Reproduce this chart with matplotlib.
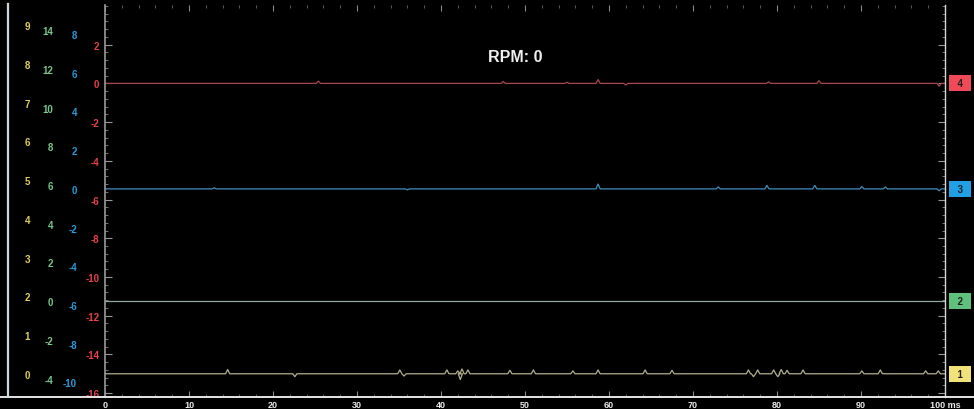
import numpy as np
import matplotlib
matplotlib.use("Agg")
import matplotlib.pyplot as plt
from matplotlib.lines import Line2D

plt.rcParams["axes.unicode_minus"] = False

# channel offsets on the red (ch4) scale, and red units per channel unit
ch_names = ["1", "2", "3", "4"]
ch_offset = [-15.0, -11.25, -5.45, 0.0]
ch_scale = [2.0, 1.0, 1.0, 1.0]
ch_level = [0.0, 0.0, 0.0, 0.0]

# glitches: time (ms), height (in red units)
spikes_1 = [(14.6, 0.22), (22.6, -0.15), (35.1, 0.2), (35.6, -0.12), (40.7, 0.2),
            (42.0, 0.15), (42.3, -0.3), (42.5, 0.25), (43.2, 0.2), (48.2, 0.18),
            (51.0, 0.2), (55.7, 0.15), (58.7, 0.2), (64.3, 0.2), (67.5, 0.18),
            (76.6, 0.2), (77.2, -0.15), (77.7, 0.2), (79.6, 0.2), (80.1, -0.15),
            (80.5, 0.22), (81.2, 0.18), (83.1, 0.2), (90.1, 0.15), (92.3, 0.2),
            (97.7, 0.15), (99.2, 0.15)]
spikes_2 = []
spikes_3 = [(13.0, 0.06), (36.0, -0.05), (58.7, 0.25), (73.0, 0.1), (78.8, 0.18),
            (84.5, 0.18), (90.1, 0.12), (92.9, 0.1), (99.3, -0.1)]
spikes_4 = [(25.4, 0.12), (47.4, 0.1), (55.0, 0.06), (58.7, 0.2), (62.0, -0.08),
            (79.0, 0.08), (85.0, 0.14), (99.3, -0.15)]
all_spikes = [spikes_1, spikes_2, spikes_3, spikes_4]

trace_colors = ["#b3b08c", "#8fa89a", "#3f8fbf", "#a8474f"]
label_colors = ["#e2cf5a", "#79c78c", "#2c9ad8", "#e5414b"]
box_colors = ["#f2e27a", "#5fbf7c", "#22a0e6", "#ef4a55"]

yellow_ticks = list(range(0, 10))
green_ticks = list(range(-4, 15, 2))
blue_ticks = list(range(-10, 9, 2))
red_ticks = list(range(-16, 3, 2))
x_ticks = list(range(0, 101, 10))
x_labels = [str(v) for v in x_ticks[:-1]] + ["100 ms"]


def trace(spikes, base):
    t = [0.0]
    v = [base]
    for ts, h in spikes:
        t += [ts - 0.25, ts, ts + 0.25]
        v += [base, base + h, base]
    t.append(100.0)
    v.append(base)
    return t, v


W, H = 974, 410
fig = plt.figure(figsize=(W / 100, H / 100), dpi=100, facecolor="black")
x0, x1, ytop, ybot = 105, 945, 6, 398
ax = fig.add_axes([x0 / W, (H - ybot) / H, (x1 - x0) / W, (ybot - ytop) / H])
ax.set_facecolor("black")
ax.set_xlim(0, 100)
ax.set_ylim(-16.2, 4.05)

for i in range(4):
    base = ch_offset[i] + ch_level[i] * ch_scale[i]
    t, v = trace(all_spikes[i], base)
    ax.plot(t, v, color=trace_colors[i], lw=0.9)

# spines
for s in ["top", "bottom"]:
    ax.spines[s].set_visible(False)
ax.spines["left"].set_color("#9a9a9a")
ax.spines["right"].set_color("#d8d8d8")
ax.spines["left"].set_linewidth(1.2)
ax.spines["right"].set_linewidth(1.0)

ax.set_yticks(red_ticks)
ax.set_yticklabels([str(v) for v in red_ticks])
ax.set_yticks(np.arange(-16, 4.01, 0.4), minor=True)
ax.tick_params(axis="y", which="major", direction="in", length=5, color="#9a9a9a",
               labelcolor=label_colors[3], labelsize=7, pad=4, right=True)
ax.tick_params(axis="y", which="minor", direction="in", length=2.5, color="#8a8a8a",
               right=True)
for lab in ax.get_yticklabels():
    lab.set_fontweight("bold")
    lab.set_family("Liberation Sans")

ax.set_xticks(x_ticks)
ax.set_xticklabels(x_labels)
ax.set_xticks(np.arange(0, 100.1, 2), minor=True)
ax.tick_params(axis="x", which="major", direction="in", length=4, color="#8a8a8a",
               labelcolor="#e8e8e8", labelsize=6.5, pad=2, top=True)
ax.tick_params(axis="x", which="minor", direction="in", length=2, color="#6a6a6a",
               top=True)
for lab in ax.get_xticklabels():
    lab.set_fontweight("bold")
    lab.set_family("Liberation Sans")

# extra channel scales on the left
locs = [(30 - x0) / (x1 - x0), (53 - x0) / (x1 - x0), (77 - x0) / (x1 - x0)]
scale_ticks = [yellow_ticks, green_ticks, blue_ticks]
for i in range(3):
    off, s = ch_offset[i], ch_scale[i]
    sec = ax.secondary_yaxis(locs[i], functions=(lambda y, o=off, s=s: (y - o) / s,
                                                 lambda u, o=off, s=s: u * s + o))
    sec.set_yticks(scale_ticks[i])
    sec.spines["left"].set_visible(False)
    sec.tick_params(length=0, pad=0, labelsize=7, labelcolor=label_colors[i])
    for lab in sec.get_yticklabels():
        lab.set_fontweight("bold")
        lab.set_family("Liberation Sans")

# channel markers on the right
for i in range(4):
    ax.text(1.0178, ch_offset[i], "  " + ch_names[i] + "  ", transform=ax.get_yaxis_transform(),
            ha="center", va="center", fontsize=7, fontweight="bold",
            family="Liberation Sans", color="#202020", clip_on=False,
            bbox=dict(boxstyle="square,pad=0.3", fc=box_colors[i], ec="none"))

ax.text(0.488, 1.38, "RPM: 0", transform=ax.get_yaxis_transform(), ha="center",
        va="center", fontsize=11.5, fontweight="bold", family="Liberation Sans",
        color="#f0f0f0")

# frame lines of the scope window
fig.add_artist(Line2D([0, 1], [(H - ybot) / H] * 2, color="#e6e6e6", lw=1.4))
fig.add_artist(Line2D([8 / W] * 2, [(H - ybot) / H, (H - 5) / H], color="#cfd6dc", lw=1.6))

fig.savefig("out.png", dpi=100, facecolor="black")
